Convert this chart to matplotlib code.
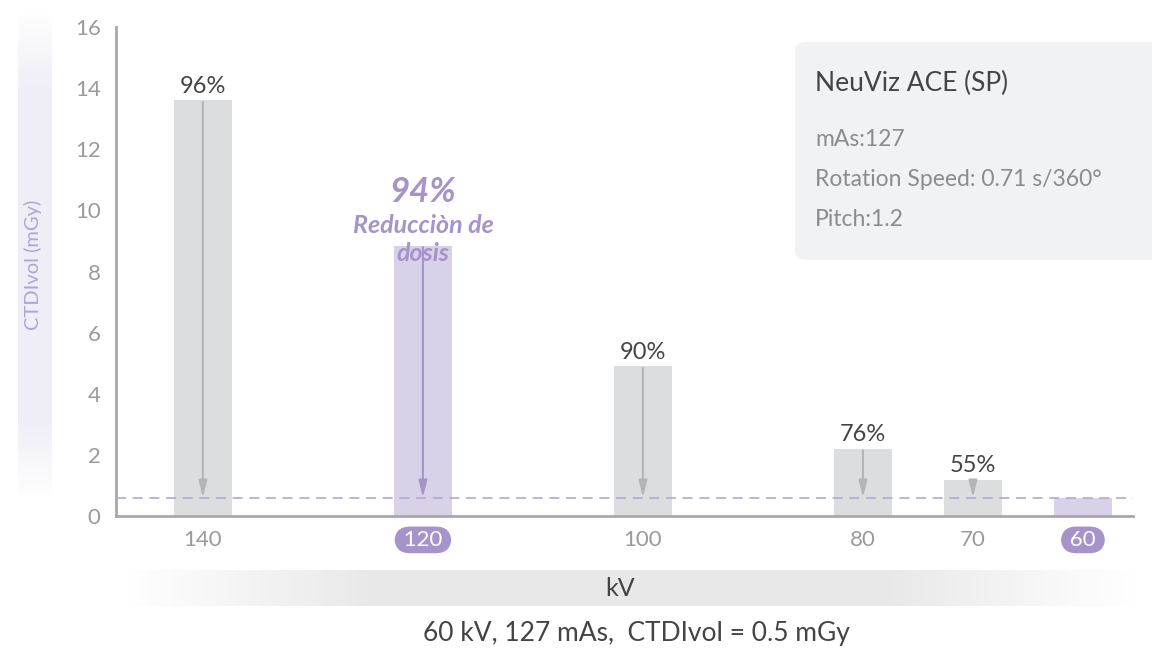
import numpy as np
import matplotlib
matplotlib.use('Agg')
import matplotlib.pyplot as plt
from matplotlib.patches import FancyBboxPatch

plt.rcParams['font.family'] = ['Lato', 'DejaVu Sans']

# 데이터
kv = [140, 120, 100, 80, 70, 60]
ctdi = [13.6, 8.85, 4.9, 2.2, 1.18, 0.6]
reduction = ['96%', '', '90%', '76%', '55%', '']
highlight = [False, True, False, False, False, True]
base_dose = 0.6  # 60 kV 기준선

grey_bar = '#dcdddf'
purple_bar = '#d9d1e8'
purple = '#a593c9'
grey_arrow = '#b5b5b8'

W, H = 1152, 650
fig = plt.figure(figsize=(W / 100, H / 100), dpi=100)

# y 라벨 뒤 그라데이션 띠
band = fig.add_axes([18 / W, 1 - 500 / H, 34 / W, 490 / H])
t = np.linspace(0, 1, 200)
alpha = np.clip(np.minimum(t, 1 - t) * 6, 0, 1)
img = np.zeros((200, 1, 4))
img[..., :3] = np.array([0.94, 0.93, 0.965])
img[:, 0, 3] = alpha
band.imshow(img, aspect='auto', extent=[0, 1, 0, 1])
band.axis('off')

# kV 띠
band2 = fig.add_axes([125 / W, 1 - 606 / H, 1010 / W, 36 / H])
img2 = np.zeros((1, 300, 4))
img2[..., :3] = np.array([0.91, 0.91, 0.91])
s = np.linspace(0, 1, 300)
img2[0, :, 3] = np.clip(np.minimum(s, 1 - s) * 4, 0, 1)
band2.imshow(img2, aspect='auto', extent=[0, 1, 0, 1])
band2.axis('off')
band2.text(0.49, 0.5, 'kV', ha='center', va='center', fontsize=18, color='#444444',
           transform=band2.transAxes)

ax = fig.add_axes([116 / W, 1 - 516 / H, (1133 - 116) / W, (516 - 27) / H])

colors = [purple_bar if h else grey_bar for h in highlight]
ax.bar(kv, ctdi, width=5.3, color=colors, zorder=2)

ax.axhline(base_dose, color='#b3a7d6', lw=1.2, ls=(0, (6, 4)), zorder=3)

for x, y, lab, h in zip(kv, ctdi, reduction, highlight):
    if x == 60:
        continue
    c = purple if h else grey_arrow
    ax.annotate('', xy=(x, base_dose), xytext=(x, y - 0.05),
                arrowprops=dict(arrowstyle='-|>,head_width=0.25,head_length=1.0',
                                color=c, lw=1.5, shrinkA=0, shrinkB=0), zorder=4)
    if lab:
        ax.text(x, y + 0.12, lab, ha='center', va='bottom', fontsize=17, color='#444444')

# 120 kV 강조 텍스트
ax.text(120, 10.6, '94%', ha='center', va='center', fontsize=25, color=purple,
        fontweight='bold', fontstyle='italic')
ax.text(120, 9.5, 'Reducciòn de', ha='center', va='center', fontsize=18, color=purple,
        fontweight='bold', fontstyle='italic')
ax.text(120, 8.6, 'dosis', ha='center', va='center', fontsize=18, color=purple,
        fontweight='bold', fontstyle='italic')

ax.set_xlim(147.9, 55.45)
ax.set_ylim(0, 16)
ax.set_xticks(kv)
ax.set_xticklabels([' %d ' % k if h else str(k) for k, h in zip(kv, highlight)])
ax.set_yticks(range(0, 17, 2))
ax.tick_params(length=0, labelsize=16, labelcolor='#9a9a9a')
ax.tick_params(axis='x', pad=10)
ax.tick_params(axis='y', pad=11)
for lbl, h in zip(ax.get_xticklabels(), highlight):
    if h:
        lbl.set_color('white')
        lbl.set_bbox(dict(boxstyle='round,pad=0.15,rounding_size=0.7', fc=purple, ec='none'))

for sp in ['top', 'right']:
    ax.spines[sp].set_visible(False)
for sp in ['left', 'bottom']:
    ax.spines[sp].set_color('#a8a8a8')
    ax.spines[sp].set_linewidth(2)

fig.text(33 / W, 1 - 265 / H, 'CTDIvol (mGy)', rotation=90, ha='center', va='center',
         fontsize=14.5, color='#b0a3d6')

# 정보 박스
box = FancyBboxPatch((795 / W, 1 - 260 / H), 400 / W, 218 / H,
                     boxstyle='round,pad=0,rounding_size=0.012', transform=fig.transFigure,
                     fc='#f1f2f4', ec='none', zorder=0)
fig.patches.append(box)
fig.text(815 / W, 1 - 83 / H, 'NeuViz ACE (SP)', fontsize=19, color='#444444', va='center')
fig.text(815 / W, 1 - 140 / H, 'mAs:127', fontsize=16.5, color='#8c8c8c', va='center')
fig.text(815 / W, 1 - 180 / H, 'Rotation Speed: 0.71 s/360°', fontsize=16.5, color='#8c8c8c',
         va='center')
fig.text(815 / W, 1 - 220 / H, 'Pitch:1.2', fontsize=16.5, color='#8c8c8c', va='center')

fig.text(636 / W, 1 - 634 / H, '60 kV, 127 mAs,  CTDIvol = 0.5 mGy', ha='center', va='center',
         fontsize=19, color='#444444')

fig.savefig('out.png', dpi=100)
